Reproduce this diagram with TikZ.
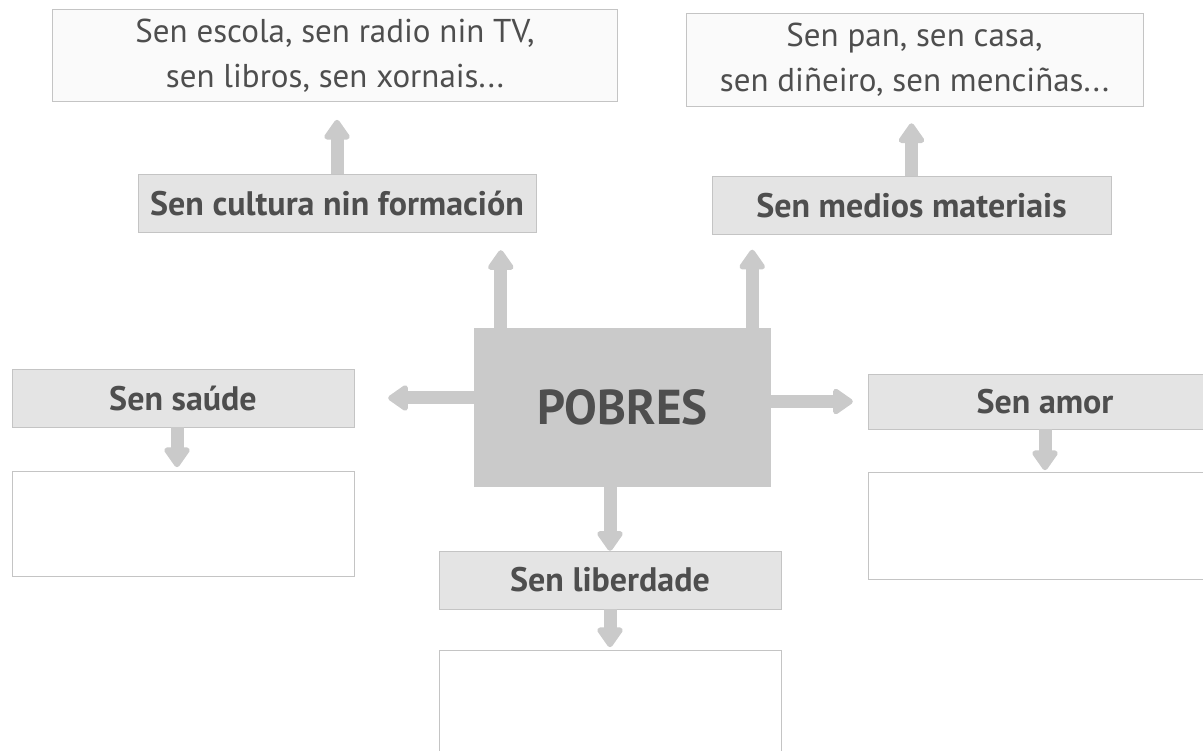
\documentclass[tikz,border=0pt]{standalone}
\usepackage{fontspec}
\setmainfont{PT Sans}
\usetikzlibrary{positioning,arrows.meta}

\definecolor{txtgray}{HTML}{4E4E4E}
\definecolor{edgegray}{HTML}{C4C4C4}
\definecolor{labfill}{HTML}{E4E4E4}
\definecolor{arrgray}{HTML}{CACACA}

\begin{document}
\begin{tikzpicture}[
  x=1pt, y=-1pt,
  font=\fontsize{33}{45}\selectfont, text=txtgray,
  info/.style={draw=edgegray, fill=gray!4, align=center, inner sep=0pt},
  lab/.style={draw=edgegray, fill=labfill, inner sep=0pt, minimum height=58pt,
    font=\fontsize{34}{38}\selectfont\bfseries},
  blank/.style={draw=edgegray, fill=white, inner sep=0pt, minimum width=342pt},
  arr/.style={-{Triangle[width=29pt,length=22pt,round]}, line width=13pt, draw=arrgray}
]
\useasboundingbox (0,0) rectangle (1203,751);

\node[fill=arrgray, minimum width=297pt, minimum height=159pt, inner sep=0pt,
  font=\fontsize{49}{54}\selectfont\bfseries] (pob) at (622.5,407.5) {POBRES};

\node[lab, minimum width=398pt] (cult) at (337,203) {Sen cultura nin formación};
\node[lab, minimum width=399pt] (med) at (911.5,205.5) {Sen medios materiais};
\node[lab, minimum width=342pt] (saude) at (183,398) {Sen saúde};
\node[lab, minimum width=354pt, minimum height=55pt] (amor) at (1045,401.5) {Sen amor};
\node[lab, minimum width=342pt] (lib) at (610,580) {Sen liberdade};

\node[info, minimum width=565pt, minimum height=92pt, above=72pt of cult, xshift=-2pt] (escola)
  {Sen escola, sen radio nin TV,\\sen libros, sen xornais...};
\node[info, minimum width=457pt, minimum height=93pt, above=70pt of med, xshift=3pt] (pan)
  {Sen pan, sen casa,\\sen diñeiro, sen menciñas...};

\node[blank, minimum height=105pt, below=44pt of saude] (resaude) {};
\node[blank, minimum width=354pt, minimum height=107pt, below=43pt of amor] (reamor) {};
\node[blank, minimum height=115pt, below=41pt of lib] (relib) {};

% frechas desde POBRES
\draw[arr, shorten >=18pt] ([xshift=27pt]pob.north west) -- ([xshift=27pt]pob.north west |- cult.south);
\draw[arr, shorten >=15pt] ([xshift=-19pt]pob.north east) -- ([xshift=-19pt]pob.north east |- med.south);
\draw[arr, shorten >=34pt] (pob.west |- saude.east) -- (saude.east);
\draw[arr, shorten >=15pt] (pob.east |- amor.west) -- (amor.west);
\draw[arr] (lib.north |- pob.south) -- (lib.north);

\draw[arr, shorten >=18pt] (cult.north) -- (cult.north |- escola.south);
\draw[arr, shorten >=17pt] (med.north) -- (med.north |- pan.south);
\draw[arr, shorten >=4pt] ([xshift=-6pt]saude.south) -- ([xshift=-6pt]resaude.north);
\draw[arr, shorten >=2pt] (amor.south) -- (reamor.north);
\draw[arr, shorten >=3pt] (lib.south) -- (relib.north);

\end{tikzpicture}
\end{document}
